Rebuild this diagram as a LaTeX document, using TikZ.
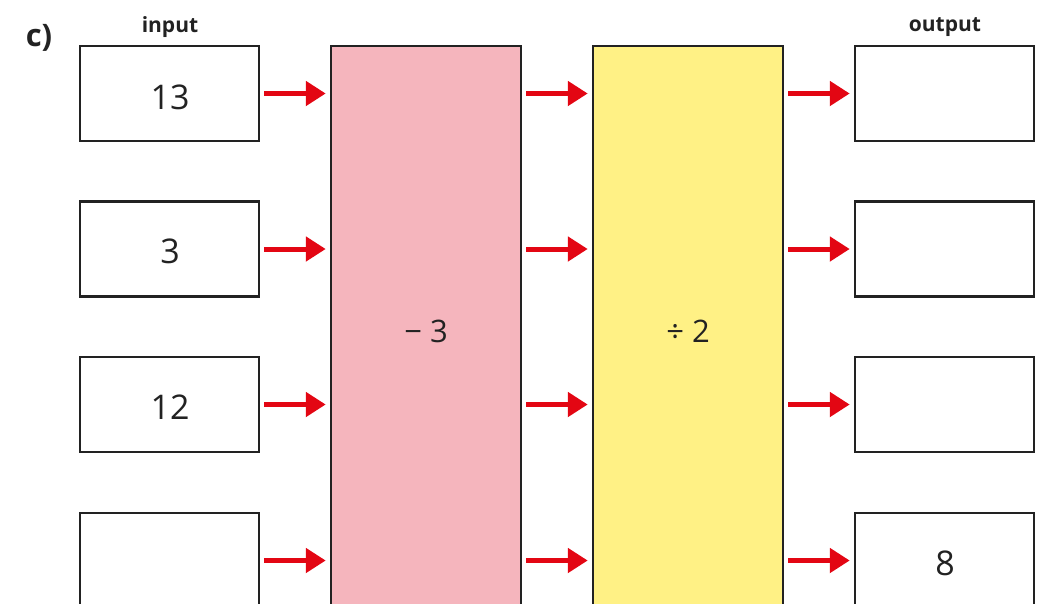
\documentclass[tikz,border=0pt]{standalone}
\usepackage{fontspec}
\setmainfont{Open Sans}
\usetikzlibrary{arrows.meta}
\definecolor{pinkc}{HTML}{F5B5BD}
\definecolor{yellowc}{HTML}{FFF185}
\definecolor{redc}{HTML}{E30613}
\definecolor{edgec}{HTML}{222222}
\tikzset{
  box/.style={draw=edgec, line width=2.5pt, fill=white, minimum width=179pt, minimum height=95pt, inner sep=0pt, font=\fontsize{34}{36}\selectfont, text=edgec},
  col/.style={draw=edgec, line width=2.5pt, minimum width=190pt, inner sep=0pt, font=\fontsize{30}{34}\selectfont, text=edgec},
  arr/.style={draw=redc, line width=5pt, -{Triangle[length=20pt,width=24pt]}, shorten <=4pt, shorten >=4pt},
  lbl/.style={font=\bfseries\fontsize{21}{24}\selectfont, text=edgec, inner sep=0pt},
  num/.style={font=\fontsize{34}{36}\selectfont, text=edgec, inner sep=0pt}
}
\begin{document}
\begin{tikzpicture}[x=1pt,y=-1pt]
\useasboundingbox (0,0) rectangle (1040,603);
\clip (0,0) rectangle (1040,603);
\node[font=\bfseries\fontsize{31}{34}\selectfont, text=edgec, inner sep=0pt] (c) at (39,38) {c)};
\node[lbl] (inlbl) at (170,27) {input};
\node[lbl] (outlbl) at (945,27) {output};
% columns
\draw[col, fill=pinkc] (331,46) rectangle (521,720);
\draw[col, fill=yellowc] (593,46) rectangle (783,720);
\node[col, draw=none, minimum height=674pt, anchor=north] (pink) at (426,46) {};
\node[col, draw=none, minimum height=674pt, anchor=north] (yel) at (688,46) {};
\node[font=\fontsize{31}{34}\selectfont, text=edgec] (m3) at (426,331) {− 3};
\node[font=\fontsize{31}{34}\selectfont, text=edgec] (d2) at (688,331) {÷ 2};
% input boxes
\node[box] (i1) at (169.5,93.5) {};
\node[box] (i2) at (169.5,249) {};
\node[box] (i3) at (169.5,404.5) {};
\node[box] (i4) at (169.5,560.5) {};
\node[num] (t1) at (170,97) {13};
\node[num] (t2) at (170,251) {3};
\node[num] (t3) at (170,407) {12};
% output boxes
\node[box] (o1) at (944.5,93.5) {};
\node[box] (o2) at (944.5,249) {};
\node[box] (o3) at (944.5,404.5) {};
\node[box] (o4) at (944.5,560.5) {};
\node[num] (t8) at (945,563) {8};
% arrows
\foreach \k in {1,2,3,4}{
  \draw[arr] (i\k.east) -- (i\k.east -| pink.west);
  \draw[arr] (i\k.east -| pink.east) -- (i\k.east -| yel.west);
  \draw[arr] (i\k.east -| yel.east) -- (o\k.west);
}
\end{tikzpicture}
\end{document}
